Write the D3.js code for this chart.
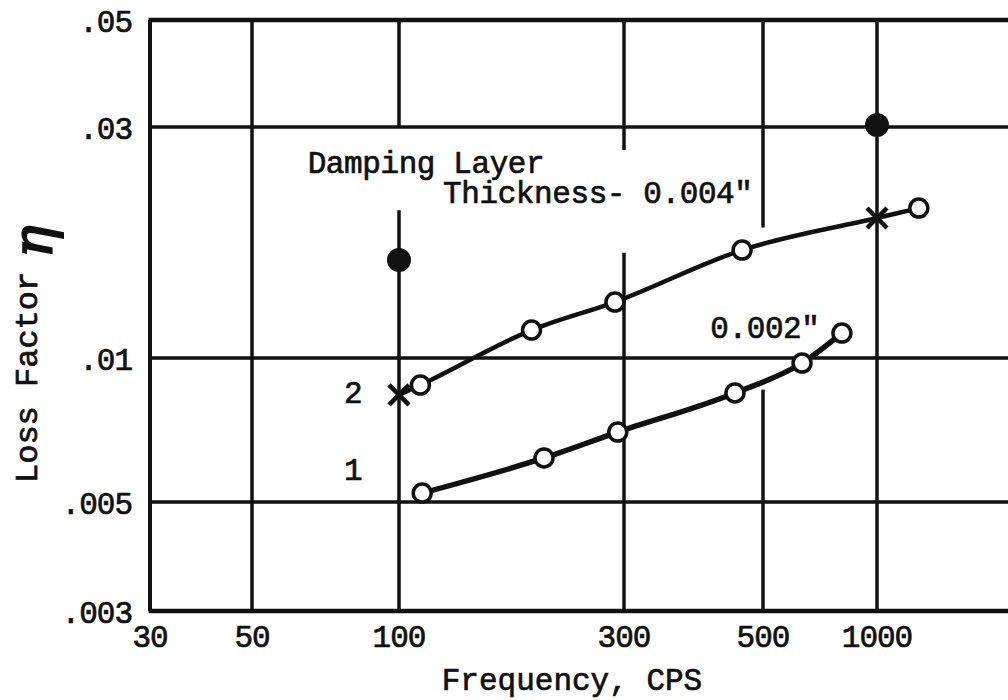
<!DOCTYPE html>
<html>
<head>
<meta charset="utf-8">
<script src="https://cdn.jsdelivr.net/npm/d3@7"></script>
<style>
  body { margin: 0; background: #fff; }
  text { font-family: "Liberation Mono", "DejaVu Sans Mono", monospace; fill: #111; stroke: #111; stroke-width: 0.7px; }
</style>
</head>
<body>
<div id="chart"></div>
<script>
// grid / tick values
var xTicks = [30, 50, 100, 300, 500, 1000];
var xTickLabels = ["30", "50", "100", "300", "500", "1000"];
var yTicks = [0.003, 0.005, 0.01, 0.03, 0.05];
var yTickLabels = [".003", ".005", ".01", ".03", ".05"];

// curve 2: thickness 0.004"
var freq004 = [100, 111, 191, 287, 463, 1000, 1223];
var eta004 = [0.00837, 0.00878, 0.01142, 0.01305, 0.01671, 0.01946, 0.0204];
var mark004 = ["x", "o", "o", "o", "o", "x", "o"];

// curve 1: thickness 0.002"
var freq002 = [112, 203, 291, 451, 634, 808];
var eta002 = [0.00522, 0.00618, 0.00700, 0.00845, 0.00976, 0.01126];

// solid points
var freqSolid = [100, 1000];
var etaSolid = [0.01594, 0.0303];

// breaks in the vertical grid lines (freq, eta from, eta to)
var gridGaps = [[100, 0.0202, 0.03], [300, 0.0165, 0.0269], [500, 0.00859, 0.0186]];

var width = 1008, height = 700;

var svg = d3.select("#chart")
  .append("svg")
  .attr("width", width)
  .attr("height", height)
  .style("background", "#fff");

// the original grid is hand ruled, so the log scale is piecewise
var x = d3.scaleLog()
  .domain([30, 50, 100, 300, 500, 1000, 2000])
  .range([150, 252, 399, 624, 763, 877, 1021]);
var y = d3.scaleLog()
  .domain([0.003, 0.005, 0.01, 0.03, 0.05])
  .range([611, 502, 358, 127, 20]);

var ink = "#111";

// horizontal grid lines
svg.selectAll("line.h")
  .data(yTicks)
  .enter()
  .append("line")
    .attr("class", "h")
    .attr("x1", x(30) - 1.5)
    .attr("x2", width)
    .attr("y1", function(d) { return y(d); })
    .attr("y2", function(d) { return y(d); })
    .style("stroke", ink)
    .style("stroke-width", function(d, i) { return (i == 0 || i == yTicks.length - 1) ? 4.5 : 3.5; });

// vertical grid lines, split where the original leaves a gap
var vSegs = [];
xTicks.forEach(function(f) {
  var gap = gridGaps.find(function(g) { return g[0] == f; });
  if (gap) {
    vSegs.push([f, 0.003, gap[1]]);
    vSegs.push([f, gap[2], 0.05]);
  } else {
    vSegs.push([f, 0.003, 0.05]);
  }
});

svg.selectAll("line.v")
  .data(vSegs)
  .enter()
  .append("line")
    .attr("class", "v")
    .attr("x1", function(d) { return x(d[0]); })
    .attr("x2", function(d) { return x(d[0]); })
    .attr("y1", function(d) { return y(d[1]); })
    .attr("y2", function(d) { return y(d[2]); })
    .style("stroke", ink)
    .style("stroke-width", function(d) { return d[0] == 30 ? 4 : 3.5; });

// tick labels
svg.selectAll("text.yt")
  .data(yTicks)
  .enter()
  .append("text")
    .attr("class", "yt")
    .attr("x", x(30) - 18)
    .attr("y", function(d) { return y(d) + 12; })
    .attr("text-anchor", "end")
    .style("font-size", "31px")
    .style("letter-spacing", "-1px")
    .text(function(d, i) { return yTickLabels[i]; });

svg.selectAll("text.xt")
  .data(xTicks)
  .enter()
  .append("text")
    .attr("class", "xt")
    .attr("x", function(d) { return x(d); })
    .attr("y", y(0.003) + 36)
    .attr("text-anchor", "middle")
    .style("font-size", "31px")
    .style("letter-spacing", "-1px")
    .text(function(d, i) { return xTickLabels[i]; });

// axis titles
svg.append("text")
  .attr("x", 572)
  .attr("y", 690)
  .attr("text-anchor", "middle")
  .style("font-size", "31px")
  .text("Frequency, CPS");

svg.append("text")
  .attr("transform", "translate(37,483) rotate(-90)")
  .style("font-size", "32px")
  .text("Loss Factor");

svg.append("text")
  .attr("transform", "translate(52,258) rotate(-90)")
  .style("font-family", "'DejaVu Serif', serif")
  .style("font-style", "italic")
  .style("font-size", "54px")
  .style("stroke-width", "2px")
  .text("\u03B7");

// curves
var line = d3.line()
  .x(function(d) { return x(d[0]); })
  .y(function(d) { return y(d[1]); })
  .curve(d3.curveMonotoneX);

var pts004 = d3.zip(freq004, eta004);
var pts002 = d3.zip(freq002, eta002);

svg.append("path")
  .datum(pts004)
  .attr("d", line)
  .style("fill", "none")
  .style("stroke", ink)
  .style("stroke-width", 4.5);

svg.append("path")
  .datum(pts002)
  .attr("d", line)
  .style("fill", "none")
  .style("stroke", ink)
  .style("stroke-width", 5.5);

// open circles
var circ = pts004.filter(function(d, i) { return mark004[i] == "o"; }).concat(pts002);
svg.selectAll("circle.o")
  .data(circ)
  .enter()
  .append("circle")
    .attr("class", "o")
    .attr("cx", function(d) { return x(d[0]); })
    .attr("cy", function(d) { return y(d[1]); })
    .attr("r", 9)
    .style("fill", "#fff")
    .style("stroke", ink)
    .style("stroke-width", 3.5);

// crosses
var cross = pts004.filter(function(d, i) { return mark004[i] == "x"; });
svg.selectAll("path.x")
  .data(cross)
  .enter()
  .append("path")
    .attr("class", "x")
    .attr("transform", function(d) { return "translate(" + x(d[0]) + "," + y(d[1]) + ")"; })
    .attr("d", "M-10,-10L10,10M-10,10L10,-10")
    .style("stroke", ink)
    .style("stroke-width", 4.5);

// solid points
svg.selectAll("circle.s")
  .data(d3.zip(freqSolid, etaSolid))
  .enter()
  .append("circle")
    .attr("class", "s")
    .attr("cx", function(d) { return x(d[0]); })
    .attr("cy", function(d) { return y(d[1]); })
    .attr("r", 12)
    .style("fill", ink);

// annotations
var notes = [
  {f: 65, e: 0.0241, t: "Damping Layer", a: "start"},
  {f: 124, e: 0.0209, t: "Thickness- 0.004\"", a: "start"},
  {f: 412, e: 0.0110, t: "0.002\"", a: "start"},
  {f: 80.5, e: 0.00806, t: "2", a: "middle"},
  {f: 80.5, e: 0.00556, t: "1", a: "middle"}
];
svg.selectAll("text.n")
  .data(notes)
  .enter()
  .append("text")
    .attr("class", "n")
    .attr("x", function(d) { return x(d.f); })
    .attr("y", function(d) { return y(d.e); })
    .attr("text-anchor", function(d) { return d.a; })
    .style("font-size", "31px")
    .style("letter-spacing", "-0.4px")
    .text(function(d) { return d.t; });
</script>
</body>
</html>
